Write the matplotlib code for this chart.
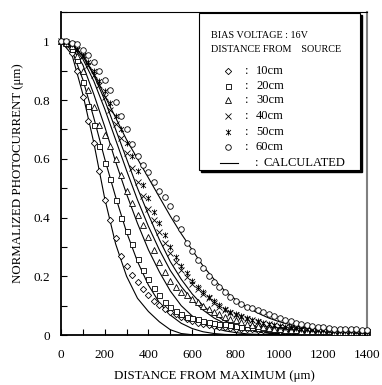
#!/usr/bin/env python3
"""
Normalized photocurrent profile vs distance from maximum
for several source distances (bias voltage 16 V)
"""

import numpy as np
import matplotlib.pyplot as plt
from matplotlib.patches import Rectangle
from matplotlib.lines import Line2D
from matplotlib.path import Path
from matplotlib.ticker import MultipleLocator, FuncFormatter

plt.rcParams['font.family'] = ['Liberation Serif', 'DejaVu Serif']

# measured points, every 25 um
x_meas = np.arange(0, 1401, 25)

meas_10cm = [1.00, 0.99, 0.96, 0.90, 0.81, 0.73, 0.655, 0.56, 0.46, 0.39,
             0.33, 0.27, 0.235, 0.205, 0.18, 0.155, 0.135, 0.117, 0.102, 0.09,
             0.08, 0.07, 0.062, 0.055, 0.047, 0.042, 0.037, 0.033, 0.030, 0.028,
             0.026, 0.024, 0.022, 0.021, 0.020, 0.019, 0.018, 0.017, 0.017, 0.016,
             0.015, 0.015, 0.014, 0.014, 0.013, 0.013, 0.013, 0.012, 0.012, 0.012,
             0.011, 0.011, 0.011, 0.010, 0.010, 0.010, 0.010]
meas_20cm = [1.00, 0.995, 0.975, 0.935, 0.86, 0.78, 0.715, 0.645, 0.585, 0.53,
             0.46, 0.40, 0.355, 0.31, 0.26, 0.22, 0.19, 0.16, 0.135, 0.113,
             0.097, 0.082, 0.071, 0.063, 0.057, 0.053, 0.049, 0.045, 0.042, 0.039,
             0.036, 0.033, 0.030, 0.028, 0.027, 0.026, 0.024, 0.023, 0.022, 0.021,
             0.020, 0.019, 0.019, 0.018, 0.018, 0.017, 0.017, 0.016, 0.016, 0.015,
             0.015, 0.015, 0.014, 0.014, 0.014, 0.013, 0.013]
meas_30cm = [1.00, 0.995, 0.985, 0.95, 0.90, 0.835, 0.775, 0.715, 0.68, 0.645,
             0.60, 0.545, 0.49, 0.45, 0.41, 0.375, 0.335, 0.29, 0.25, 0.215,
             0.185, 0.165, 0.148, 0.135, 0.123, 0.112, 0.10, 0.09, 0.08, 0.071,
             0.063, 0.056, 0.05, 0.044, 0.039, 0.035, 0.031, 0.028, 0.025, 0.022,
             0.020, 0.018, 0.017, 0.016, 0.015, 0.014, 0.013, 0.013, 0.012, 0.012,
             0.011, 0.011, 0.010, 0.010, 0.010, 0.009, 0.009]
meas_40cm = [1.00, 0.998, 0.99, 0.97, 0.95, 0.92, 0.885, 0.85, 0.81, 0.765,
             0.72, 0.67, 0.62, 0.57, 0.52, 0.475, 0.43, 0.39, 0.35, 0.315,
             0.28, 0.25, 0.22, 0.197, 0.175, 0.157, 0.14, 0.125, 0.11, 0.097,
             0.086, 0.076, 0.068, 0.061, 0.055, 0.05, 0.045, 0.04, 0.036, 0.033,
             0.030, 0.027, 0.025, 0.023, 0.021, 0.019, 0.018, 0.017, 0.016, 0.015,
             0.014, 0.013, 0.012, 0.012, 0.011, 0.011, 0.010]
meas_50cm = [1.00, 0.998, 0.99, 0.975, 0.955, 0.93, 0.90, 0.865, 0.83, 0.79,
             0.745, 0.70, 0.655, 0.61, 0.56, 0.51, 0.465, 0.42, 0.38, 0.34,
             0.30, 0.265, 0.235, 0.21, 0.185, 0.165, 0.145, 0.13, 0.115, 0.102,
             0.09, 0.08, 0.072, 0.065, 0.058, 0.052, 0.047, 0.042, 0.038, 0.034,
             0.031, 0.028, 0.026, 0.024, 0.022, 0.020, 0.019, 0.018, 0.017, 0.016,
             0.015, 0.014, 0.013, 0.013, 0.012, 0.012, 0.011]
meas_60cm = [1.00, 1.00, 0.995, 0.99, 0.97, 0.955, 0.93, 0.90, 0.87, 0.835,
             0.795, 0.745, 0.70, 0.65, 0.61, 0.58, 0.555, 0.52, 0.49, 0.47,
             0.44, 0.40, 0.36, 0.315, 0.285, 0.255, 0.228, 0.20, 0.18, 0.163,
             0.145, 0.13, 0.115, 0.105, 0.097, 0.092, 0.085, 0.078, 0.07, 0.064,
             0.057, 0.052, 0.047, 0.042, 0.038, 0.034, 0.031, 0.028, 0.026, 0.024,
             0.022, 0.021, 0.020, 0.019, 0.019, 0.018, 0.018]

# calculated profiles, every 50 um
x_calc = np.arange(0, 1401, 50)

calc_10cm = [1.0, 0.955, 0.82, 0.655, 0.465, 0.31, 0.20, 0.125, 0.08, 0.045,
             0.018, 0.005, 0.001, 0, 0, 0, 0, 0, 0, 0,
             0, 0, 0, 0, 0, 0, 0, 0, 0]
calc_20cm = [1.0, 0.97, 0.87, 0.74, 0.60, 0.47, 0.35, 0.25, 0.17, 0.11,
             0.068, 0.04, 0.022, 0.011, 0.005, 0.002, 0.001, 0, 0, 0,
             0, 0, 0, 0, 0, 0, 0, 0, 0]
calc_30cm = [1.0, 0.98, 0.92, 0.82, 0.71, 0.59, 0.48, 0.38, 0.29, 0.215,
             0.15, 0.10, 0.065, 0.04, 0.024, 0.014, 0.008, 0.004, 0.002, 0.001,
             0, 0, 0, 0, 0, 0, 0, 0, 0]
calc_40cm = [1.0, 0.985, 0.94, 0.865, 0.77, 0.665, 0.56, 0.46, 0.37, 0.29,
             0.22, 0.165, 0.12, 0.085, 0.058, 0.039, 0.025, 0.016, 0.01, 0.006,
             0.004, 0.002, 0.001, 0, 0, 0, 0, 0, 0]
calc_50cm = [1.0, 0.987, 0.95, 0.885, 0.80, 0.70, 0.60, 0.50, 0.41, 0.325,
             0.25, 0.19, 0.14, 0.10, 0.07, 0.048, 0.032, 0.021, 0.013, 0.008,
             0.005, 0.003, 0.002, 0.001, 0, 0, 0, 0, 0]
calc_60cm = [1.0, 0.99, 0.95, 0.89, 0.815, 0.74, 0.665, 0.60, 0.535, 0.47,
             0.405, 0.345, 0.29, 0.235, 0.19, 0.15, 0.12, 0.095, 0.075, 0.058,
             0.045, 0.035, 0.027, 0.02, 0.015, 0.011, 0.008, 0.006, 0.005]

distances = ['10cm', '20cm', '30cm', '40cm', '50cm', '60cm']
measured = [meas_10cm, meas_20cm, meas_30cm, meas_40cm, meas_50cm, meas_60cm]
calculated = [calc_10cm, calc_20cm, calc_30cm, calc_40cm, calc_50cm, calc_60cm]

# "x with a vertical bar" marker for 50cm
star_bar = Path([(0, -1), (0, 1), (-0.8, -0.8), (0.8, 0.8), (-0.8, 0.8), (0.8, -0.8)],
                [Path.MOVETO, Path.LINETO] * 3)
markers = ['D', 's', '^', 'x', star_bar, 'o']
marker_sizes = [3.2, 3.6, 3.8, 4.0, 4.4, 4.0]

W, H = 382, 385


def fig_px(xp, yp):
    """pixel position (from top-left) -> figure fraction"""
    return xp / W, 1 - yp / H


fig = plt.figure(figsize=(W / 100, H / 100), dpi=100)
ax = fig.add_axes([61 / W, 1 - 335 / H, 306 / W, 323 / H])

for ys in calculated:
    ax.plot(x_calc, ys, '-', color='black', linewidth=0.8, zorder=2)

for ys, m, ms in zip(measured, markers, marker_sizes):
    ax.plot(x_meas, ys, linestyle='none', marker=m, markersize=ms,
            markerfacecolor='white', markeredgecolor='black',
            markeredgewidth=0.6, clip_on=False, zorder=3)

ax.set_xlim(0, 1400)
ax.set_ylim(0, 1.1)
ax.xaxis.set_major_locator(MultipleLocator(200))
ax.xaxis.set_minor_locator(MultipleLocator(100))
ax.yaxis.set_major_locator(MultipleLocator(0.2))
ax.yaxis.set_minor_locator(MultipleLocator(0.1))
ax.yaxis.set_major_formatter(FuncFormatter(lambda v, p: f'{v:g}'))
ax.tick_params(which='both', direction='in', length=4, width=0.8, top=False, right=False)
ax.tick_params(axis='x', labelsize=9.5, pad=10)
ax.tick_params(axis='y', labelsize=9.5, pad=8)

for side in ['left', 'bottom']:
    ax.spines[side].set_linewidth(1.3)
ax.spines['top'].set_linewidth(0.8)
ax.spines['right'].set_color('0.5')
ax.spines['right'].set_linewidth(1.5)

ax.set_xlabel('DISTANCE FROM MAXIMUM (\u03bcm)', fontsize=9.3)
ax.xaxis.set_label_coords(0.5, -0.127)
ax.xaxis.label.set_va('center')
ax.set_ylabel('NORMALIZED PHOTOCURRENT (\u03bcm)', fontsize=9.3)
ax.yaxis.set_label_coords(-0.14, 0.5)
ax.yaxis.label.set_va('center')

# legend box with drop shadow
bx0, by0 = fig_px(199, 170)
bw, bh = 161 / W, 157 / H
fig.add_artist(Rectangle((bx0 + 2 / W, by0 - 2 / H), bw, bh, transform=fig.transFigure,
                         facecolor='black', edgecolor='black', zorder=5))
fig.add_artist(Rectangle((bx0, by0), bw, bh, transform=fig.transFigure,
                         facecolor='white', edgecolor='black', linewidth=0.8, zorder=6))

fig.text(*fig_px(211, 35), 'BIAS VOLTAGE : 16V', fontsize=7.3, va='center', zorder=7)
fig.text(*fig_px(211, 50), 'DISTANCE FROM    SOURCE', fontsize=7.3, va='center', zorder=7)

entry_y = [71, 86, 100, 116, 132, 147]
for yp, m, ms, d in zip(entry_y, markers, marker_sizes, distances):
    fig.add_artist(Line2D([228 / W], [1 - yp / H], transform=fig.transFigure,
                          linestyle='none', marker=m, markersize=ms,
                          markerfacecolor='white', markeredgecolor='black',
                          markeredgewidth=0.6, zorder=7))
    fig.text(*fig_px(245, yp), ':', fontsize=9, va='center', zorder=7)
    fig.text(*fig_px(256, yp), d, fontsize=9, va='center', zorder=7)

fig.add_artist(Line2D([220 / W, 238 / W], [1 - 163 / H] * 2, transform=fig.transFigure,
                      color='black', linewidth=0.8, zorder=7))
fig.text(*fig_px(255, 163), ':', fontsize=9, va='center', zorder=7)
fig.text(*fig_px(264, 163), 'CALCULATED', fontsize=9, va='center', zorder=7)

fig.savefig('out.png', dpi=100)
plt.close(fig)
